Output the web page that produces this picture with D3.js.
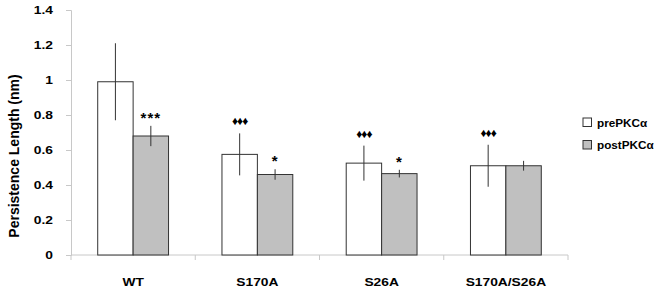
<!DOCTYPE html>
<html>
<head>
<meta charset="utf-8">
<script src="https://cdn.jsdelivr.net/npm/d3@7"></script>
<style>
  body { margin: 0; background: #fff; }
  svg text { font-family: "Liberation Sans", Arial, sans-serif; font-weight: bold; fill: #000; }
</style>
</head>
<body>
<div id="chart"></div>
<script>
// data
const categories = ["WT", "S170A", "S26A", "S170A/S26A"];
const series = ["prePKCα", "postPKCα"];
const preValues = [0.99, 0.575, 0.525, 0.51];
const preErrors = [0.22, 0.12, 0.10, 0.12];
const postValues = [0.68, 0.46, 0.465, 0.51];
const postErrors = [0.058, 0.03, 0.022, 0.028];
const preMarks = ["", "♦♦♦", "♦♦♦", "♦♦♦"];
const postMarks = ["***", "*", "*", ""];
const yTicks = [0, 0.2, 0.4, 0.6, 0.8, 1, 1.2, 1.4];

const width = 655, height = 292;
const margin = { top: 10, right: 87, bottom: 37, left: 71 };
const colors = { "prePKCα": "#ffffff", "postPKCα": "#c0c0c0" };
const stretch = 1.2; // the source figure is slightly wider than tall in its lettering

const rows = [];
categories.forEach((c, i) => {
  rows.push({ cat: c, s: series[0], v: preValues[i], e: preErrors[i], m: preMarks[i] });
  rows.push({ cat: c, s: series[1], v: postValues[i], e: postErrors[i], m: postMarks[i] });
});

const svg = d3.select("#chart").append("svg")
  .attr("width", width).attr("height", height);

const x0 = d3.scaleBand()
  .domain(categories)
  .range([margin.left, width - margin.right])
  .paddingInner(0.43).paddingOuter(0.215);

const x1 = d3.scaleBand().domain(series).range([0, x0.bandwidth()]);

const y = d3.scaleLinear().domain([0, 1.4]).range([height - margin.bottom, margin.top]);

// y axis (labels drawn separately so they can be stretched)
const yAxis = svg.append("g")
  .attr("transform", `translate(${margin.left},0)`)
  .call(d3.axisLeft(y).tickValues(yTicks).tickSize(5).tickFormat(""));
yAxis.select(".domain").attr("stroke", "#c8c8c8");
yAxis.selectAll(".tick line").attr("stroke", "#c8c8c8");

svg.append("g").selectAll("text")
  .data(yTicks)
  .enter().append("text")
  .attr("transform", d => `translate(${margin.left - 18},${y(d) + 4}) scale(${stretch},1)`)
  .attr("text-anchor", "end")
  .attr("font-size", 11.5)
  .text(d => d3.format("")(+d.toFixed(1)));

// x axis with ticks at category boundaries
const xAxisG = svg.append("g").attr("transform", `translate(0,${y(0)})`);
xAxisG.append("line")
  .attr("x1", margin.left).attr("x2", width - margin.right)
  .attr("stroke", "#c8c8c8");
const step = x0.step();
xAxisG.selectAll("line.sep")
  .data(d3.range(categories.length + 1))
  .enter().append("line")
  .attr("class", "sep")
  .attr("x1", i => margin.left + i * step).attr("x2", i => margin.left + i * step)
  .attr("y1", 0).attr("y2", 5)
  .attr("stroke", "#c8c8c8");
xAxisG.selectAll("text")
  .data(categories)
  .enter().append("text")
  .attr("transform", d => `translate(${x0(d) + x0.bandwidth() / 2},31) scale(${stretch},1)`)
  .attr("text-anchor", "middle")
  .attr("font-size", 11.5)
  .text(d => d);

// bars
const bx = d => x0(d.cat) + x1(d.s);
svg.append("g").selectAll("rect")
  .data(rows)
  .enter().append("rect")
  .attr("x", bx)
  .attr("y", d => y(d.v))
  .attr("width", x1.bandwidth())
  .attr("height", d => y(0) - y(d.v))
  .attr("fill", d => colors[d.s])
  .attr("stroke", "#333")
  .attr("stroke-width", 1);

// error bars
svg.append("g").selectAll("line")
  .data(rows)
  .enter().append("line")
  .attr("x1", d => bx(d) + x1.bandwidth() / 2)
  .attr("x2", d => bx(d) + x1.bandwidth() / 2)
  .attr("y1", d => y(d.v + d.e))
  .attr("y2", d => y(d.v - d.e))
  .attr("stroke", "#333");

// significance marks
svg.append("g").selectAll("text")
  .data(rows.filter(d => d.m))
  .enter().append("text")
  .attr("x", d => bx(d) + x1.bandwidth() / 2)
  .attr("y", d => y(d.v + d.e) - (d.m.startsWith("*") ? 3 : 8))
  .attr("text-anchor", "middle")
  .attr("font-family", d => d.m.startsWith("*") ? null : "DejaVu Sans")
  .attr("font-size", d => d.m.startsWith("*") ? 15 : 12)
  .attr("letter-spacing", d => d.m.startsWith("*") ? 1 : -1)
  .text(d => d.m);

// y title
svg.append("text")
  .attr("transform", `translate(19,156) rotate(-90)`)
  .attr("text-anchor", "middle")
  .attr("font-size", 14)
  .text("Persistence Length (nm)");

// legend
const legend = svg.append("g").attr("transform", "translate(583,118)");
const li = legend.selectAll("g")
  .data(series)
  .enter().append("g")
  .attr("transform", (d, i) => `translate(0,${i * 22.5})`);
li.append("rect")
  .attr("width", 8.5).attr("height", 8.5)
  .attr("fill", d => colors[d]).attr("stroke", "#333");
li.append("text")
  .attr("transform", `translate(14,8.5) scale(1.15,1)`)
  .attr("font-size", 10.2)
  .text(d => d);
</script>
</body>
</html>
